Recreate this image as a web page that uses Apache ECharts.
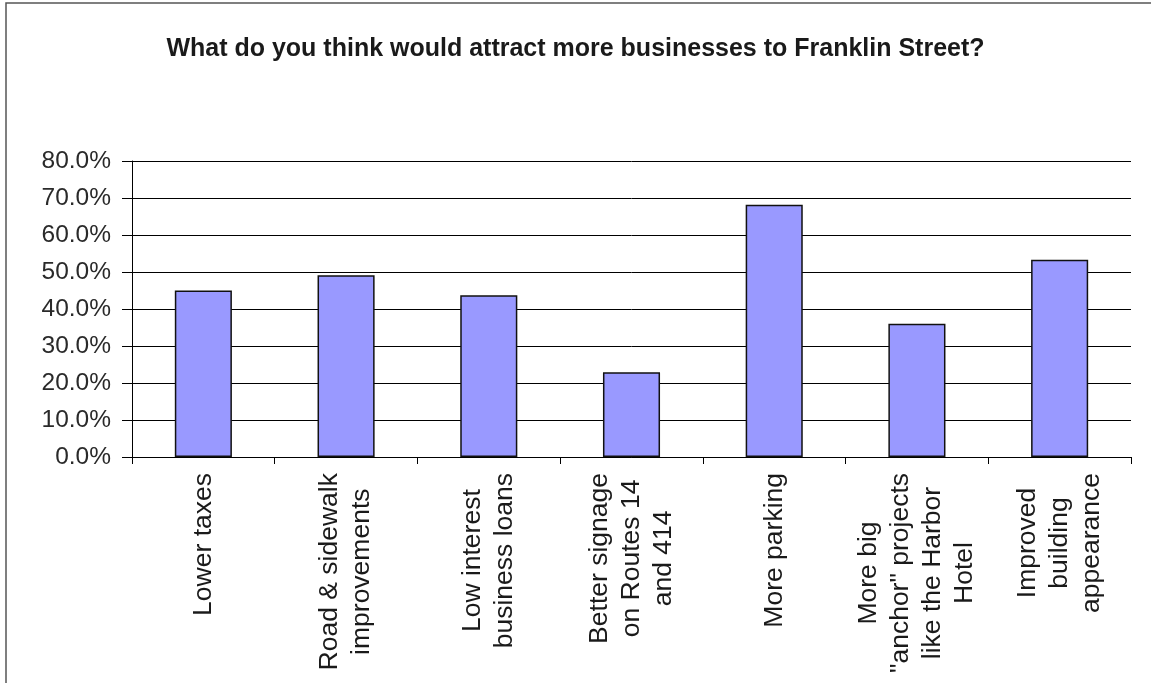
<!DOCTYPE html>
<html>
<head>
<meta charset="utf-8">
<script src="https://cdn.jsdelivr.net/npm/echarts@6/dist/echarts.min.js"></script>
<style>
html,body{margin:0;padding:0;background:#fff;}
#chart{width:1151px;height:683px;}
</style>
</head>
<body>
<div id="chart"></div>
<script>
var titleText = 'What do you think would attract more businesses to Franklin Street?';
var categories = [
  'Lower taxes',
  'Road & sidewalk\nimprovements',
  'Low interest\nbusiness loans',
  'Better signage\non Routes 14\nand 414',
  'More parking',
  'More big\n"anchor" projects\nlike the Harbor\nHotel',
  'Improved\nbuilding\nappearance'
];
var values = [45.0, 49.1, 43.7, 22.9, 68.2, 36.0, 53.3];
var yMin = 0, yMax = 80, yStep = 10;

var chart = echarts.init(document.getElementById('chart'), null, {renderer: 'canvas'});
var font = '"Liberation Sans", Arial, sans-serif';
chart.setOption({
  backgroundColor: '#ffffff',
  animation: false,
  title: {
    text: titleText,
    left: 'center',
    top: 32,
    textStyle: {fontFamily: font, fontSize: 25, fontWeight: 'bold', color: '#1a1a1a'}
  },
  graphic: [{
    type: 'rect',
    shape: {x: 6, y: 3, width: 1200, height: 800},
    style: {fill: 'none', stroke: '#555', lineWidth: 1.5},
    silent: true
  }],
  grid: {left: 132, right: 20, top: 161, bottom: 226, containLabel: false},
  xAxis: {
    type: 'category',
    data: categories,
    axisLine: {lineStyle: {color: '#000', width: 1}},
    axisTick: {show: true, alignWithLabel: false, length: 7, lineStyle: {color: '#000'}},
    axisLabel: {
      interval: 0,
      rotate: 90,
      margin: 16,
      color: '#1a1a1a',
      fontFamily: font,
      fontSize: 26,
      lineHeight: 32,
      formatter: function (v) {
        return v.split('\n').map(function (l) { return '{c|' + l + '}'; }).join('\n');
      },
      rich: {
        c: {align: 'center', fontFamily: font, fontSize: 26.5, lineHeight: 32, color: '#1a1a1a'}
      }
    }
  },
  yAxis: {
    type: 'value',
    min: yMin,
    max: yMax,
    interval: yStep,
    axisLine: {show: true, lineStyle: {color: '#000', width: 1}},
    axisTick: {show: true, inside: false, length: 10, lineStyle: {color: '#000'}},
    splitLine: {show: true, lineStyle: {color: '#000', width: 1}},
    axisLabel: {
      margin: 21,
      color: '#2a2a2a',
      fontFamily: font,
      fontSize: 24.5,
      formatter: function (v) { return v.toFixed(1) + '%'; }
    }
  },
  series: [{
    type: 'bar',
    data: values,
    barCategoryGap: '60%',
    itemStyle: {color: '#9999ff', borderColor: '#111', borderWidth: 1.5}
  }]
});
</script>
</body>
</html>
